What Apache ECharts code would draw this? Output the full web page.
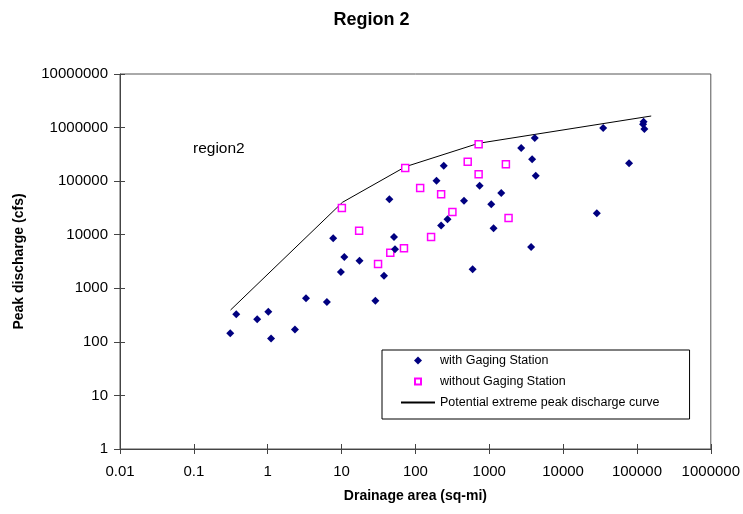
<!DOCTYPE html>
<html>
<head>
<meta charset="utf-8">
<script src="https://cdn.jsdelivr.net/npm/echarts@6/dist/echarts.min.js"></script>
<style>
  html, body { margin: 0; padding: 0; background: #fff; }
  #chart { width: 743px; height: 514px; }
</style>
</head>
<body>
<div id="chart"></div>
<script>
// sites with a gaging station (drainage area sq-mi, peak cfs)
var gagedArea = [0.311, 0.375, 0.72, 1.02, 1.11, 2.34, 3.3, 6.33, 7.7, 9.8, 10.9, 17.5, 28.7, 37.6,
  44.4, 51.3, 52.9, 193, 242, 223, 272, 455, 596, 741, 1065, 1144, 1453, 2705, 3690, 3810, 4130,
  4260, 28600, 34900, 78200, 123000, 121000, 126000];
var gagedPeak = [144, 327, 264, 366, 116, 171, 650, 555, 8570, 2015, 3840, 3270, 587, 1720,
  45800, 9060, 5340, 102000, 194500, 14800, 19400, 43200, 2260, 82200, 36900, 13200, 60100, 416000, 5900, 256000, 639000,
  126000, 25100, 982000, 215000, 1290000, 1150000, 940000];

// sites without a gaging station
var ungagedArea = [10.1, 17.3, 31.2, 45.7, 70, 72.8, 116, 163, 223, 317, 511, 718, 718, 1680, 1825];
var ungagedPeak = [31500, 11900, 2840, 4620, 5570, 176000, 74500, 9060, 56800, 26500, 231000, 487000, 134000, 206000, 20500];

// envelope curve
var curveArea = [0.314, 10.3, 73.3, 718, 156000];
var curvePeak = [393, 40300, 186000, 509000, 1644000];

var xTickLabels = ['0.01', '0.1', '1', '10', '100', '1000', '10000', '100000', '1000000'];
var yTickLabels = ['1', '10', '100', '1000', '10000', '100000', '1000000', '10000000'];

function pairs(xs, ys) {
  return xs.map(function (x, i) { return [x, ys[i]]; });
}

var font = 'Liberation Sans, Arial, sans-serif';
var axisColor = '#444';

// legend icons: small marker centred in a 34x8 box (empty moveTo's fix the box)
var diamondIcon = 'path://M0,0 M34,8 M13,4 L17,0 L21,4 L17,8 Z';
var squareIcon = 'path://M0,0 M34,8 M14,1 L20,1 L20,7 L14,7 Z';

var chart = echarts.init(document.getElementById('chart'));
chart.setOption({
  animation: false,
  backgroundColor: '#fff',
  title: {
    text: 'Region 2',
    left: 'center',
    top: 6,
    textStyle: { fontFamily: font, fontSize: 18, fontWeight: 'bold', color: '#000' }
  },
  grid: {
    left: 120, right: 30, top: 74, bottom: 65,
    show: true, borderColor: '#555', borderWidth: 1, backgroundColor: '#fff'
  },
  legend: {
    orient: 'vertical',
    left: 382, top: 350,
    padding: [4, 30, 10, 18],
    itemGap: 8,
    itemWidth: 34,
    itemHeight: 8,
    borderColor: '#000',
    borderWidth: 1,
    backgroundColor: '#fff',
    textStyle: { fontFamily: font, fontSize: 12.5, color: '#000' },
    data: [
      { name: 'with Gaging Station', icon: diamondIcon },
      { name: 'without Gaging Station', icon: squareIcon },
      { name: 'Potential extreme peak discharge curve',
        itemStyle: { color: 'rgba(0,0,0,0)', borderColor: 'rgba(0,0,0,0)', borderWidth: 0 } }
    ]
  },
  graphic: [{
    type: 'text',
    left: 193, top: 141,
    style: { text: 'region2', fontFamily: font, fontSize: 15.5, fill: '#000' }
  }],
  xAxis: [{
    type: 'log', logBase: 10, min: 0.01, max: 1000000,
    position: 'bottom',
    name: 'Drainage area (sq-mi)',
    nameLocation: 'middle', nameGap: 40,
    nameTextStyle: { fontFamily: font, fontSize: 14, fontWeight: 'bold', color: '#000' },
    axisLine: { lineStyle: { color: axisColor, width: 1 } },
    axisTick: { inside: false, length: 5, lineStyle: { color: axisColor } },
    axisLabel: {
      margin: 15, fontFamily: font, fontSize: 15, color: '#000',
      formatter: function (v, i) { return xTickLabels[i]; }
    },
    splitLine: { show: false },
    minorTick: { show: false }
  }, {
    type: 'log', logBase: 10, min: 0.01, max: 1000000,
    position: 'bottom',
    axisLine: { show: false },
    axisTick: { inside: true, length: 5, lineStyle: { color: axisColor } },
    axisLabel: { show: false },
    splitLine: { show: false }
  }],
  yAxis: [{
    type: 'log', logBase: 10, min: 1, max: 10000000,
    position: 'left',
    name: 'Peak discharge (cfs)',
    nameLocation: 'middle', nameGap: 94,
    nameTextStyle: { fontFamily: font, fontSize: 14, fontWeight: 'bold', color: '#000' },
    axisLine: { lineStyle: { color: axisColor, width: 1 } },
    axisTick: { inside: false, length: 6, lineStyle: { color: axisColor } },
    axisLabel: {
      margin: 12, fontFamily: font, fontSize: 15, color: '#000',
      formatter: function (v, i) { return yTickLabels[i]; }
    },
    splitLine: { show: false }
  }, {
    type: 'log', logBase: 10, min: 1, max: 10000000,
    position: 'left',
    axisLine: { show: false },
    axisTick: { inside: true, length: 5, lineStyle: { color: axisColor } },
    axisLabel: { show: false },
    splitLine: { show: false }
  }],
  series: [{
    name: 'Potential extreme peak discharge curve',
    type: 'line',
    symbol: 'none',
    lineStyle: { color: '#000', width: 1 },
    itemStyle: { color: '#000' },
    data: pairs(curveArea, curvePeak),
    z: 1
  }, {
    name: 'with Gaging Station',
    type: 'scatter',
    symbol: 'diamond',
    symbolSize: 8,
    itemStyle: { color: '#000080', opacity: 1 },
    data: pairs(gagedArea, gagedPeak),
    z: 3
  }, {
    name: 'without Gaging Station',
    type: 'scatter',
    symbol: 'rect',
    symbolSize: 7,
    itemStyle: { color: '#fff', borderColor: '#ff00ff', borderWidth: 1.5, opacity: 1 },
    data: pairs(ungagedArea, ungagedPeak),
    z: 2
  }]
});
</script>
</body>
</html>
